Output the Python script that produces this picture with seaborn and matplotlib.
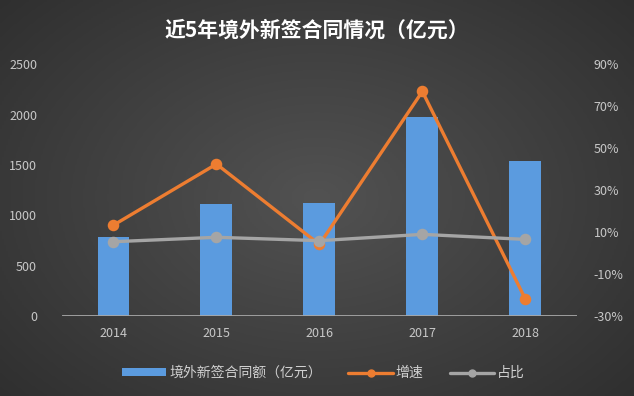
import numpy as np
import pandas as pd
import seaborn as sns
import matplotlib.pyplot as plt
from matplotlib.lines import Line2D
from matplotlib.patches import Patch

years = ['2014', '2015', '2016', '2017', '2018']
amount = [784, 1111, 1118, 1975, 1541]        # 境外新签合同额（亿元）
growth = [13.3, 42.4, 4.1, 77.0, -21.9]        # 增速 %
share = [5.4, 7.5, 5.9, 8.9, 6.5]              # 占比 %

df = pd.DataFrame({'year': years, 'amount': amount, 'growth': growth, 'share': share})

sns.set_style('dark')
plt.rcParams['font.family'] = ['Noto Sans CJK SC', 'DejaVu Sans']

fig = plt.figure(figsize=(6.34, 3.96), dpi=100)

# dark radial background
bg = fig.add_axes([0, 0, 1, 1], zorder=-10)
yy, xx = np.mgrid[-1:1:200j, -1:1:320j]
r = np.sqrt(xx**2 + (yy * 0.9)**2)
bg.imshow(r, cmap=sns.blend_palette(['#525252', '#404040', '#2e2e2e'], as_cmap=True),
          aspect='auto', extent=[0, 1, 0, 1], vmin=0, vmax=1.4)
bg.axis('off')

ax = fig.add_axes([0.0978, 0.202, 0.812, 0.636])
ax.patch.set_alpha(0)
sns.barplot(data=df, x='year', y='amount', color='#5b9bdf', saturation=1,
            width=0.31, linewidth=0, ax=ax, zorder=2)
ax.set_ylim(0, 2500)
ax.set_yticks(range(0, 2501, 500))
ax.set_xlim(-0.5, 4.5)
ax.axhline(0, color='#a8a8a8', lw=2, zorder=3)

ax2 = ax.twinx()
sns.pointplot(data=df, x='year', y='growth', color='#ed7d31', markers='o',
              markersize=6.5, linewidth=2.4, ax=ax2)
sns.pointplot(data=df, x='year', y='share', color='#a5a5a5', markers='o',
              markersize=6.5, linewidth=2.4, ax=ax2)
ax2.set_ylim(-30, 90)
ax2.set_yticks(range(-30, 91, 20))
ax2.set_yticklabels([f'{v}%' for v in range(-30, 91, 20)])
ax2.set_xlim(-0.5, 4.5)

for a in (ax, ax2):
    a.set_xlabel('')
    a.set_ylabel('')
    a.grid(False)
    for s in a.spines.values():
        s.set_visible(False)
    a.tick_params(colors='#c8c8c8', labelsize=9, length=0)
ax.tick_params(axis='y', pad=18)
ax.tick_params(axis='x', pad=8)
ax2.tick_params(axis='y', pad=12)

fig.text(0.5, 0.925, '近5年境外新签合同情况（亿元）', ha='center', va='center',
         color='white', fontsize=15, fontweight='bold')

handles = [
    Patch(facecolor='#5b9bdf', edgecolor='none'),
    Line2D([], [], color='#ed7d31', lw=2.4, marker='o', markersize=5),
    Line2D([], [], color='#a5a5a5', lw=2.4, marker='o', markersize=5),
]
fig.legend(handles, ['境外新签合同额（亿元）', '增速', '占比'], loc='center',
           bbox_to_anchor=(0.51, 0.058), ncol=3, frameon=False, fontsize=10,
           labelcolor='#d0d0d0', handlelength=3.2, handleheight=0.5,
           handletextpad=0.2, columnspacing=1.9)

fig.savefig('out.png', dpi=100)
